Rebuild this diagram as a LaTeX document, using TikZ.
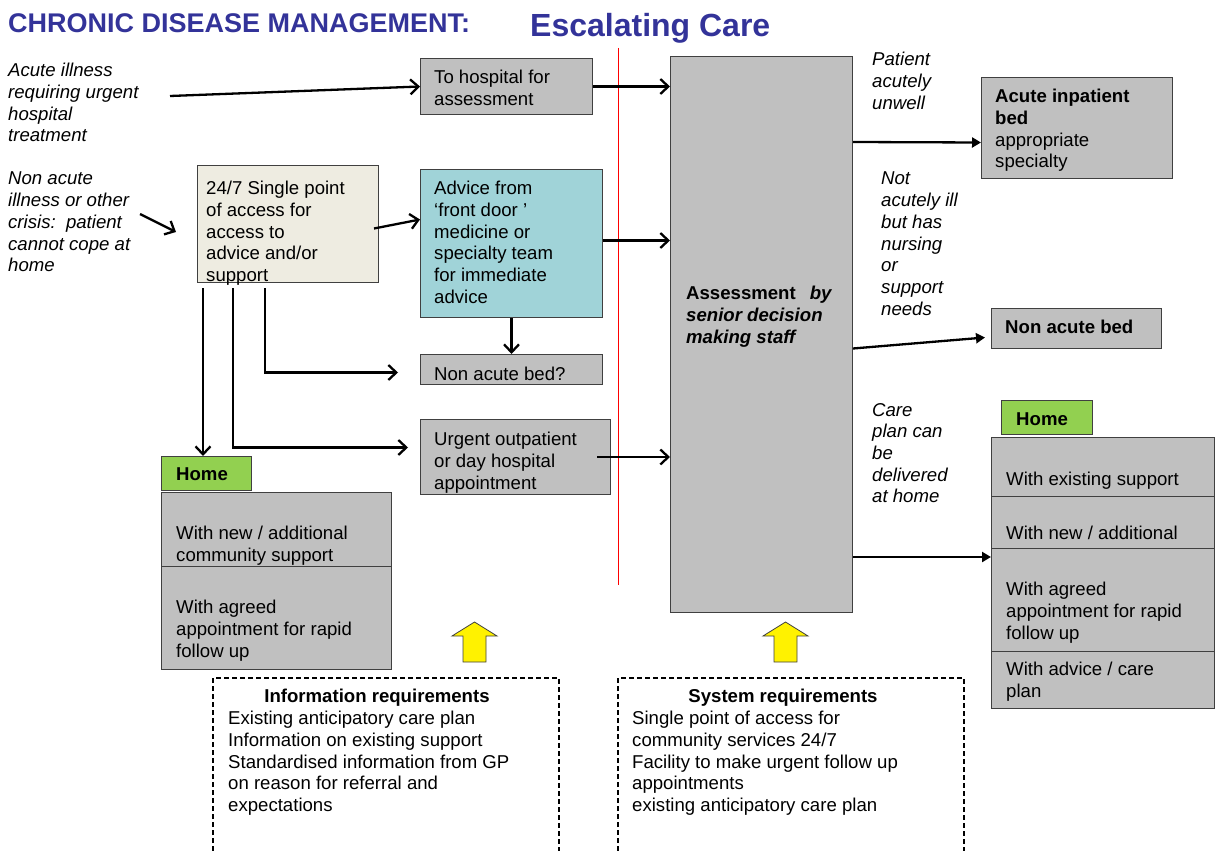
\documentclass[tikz,border=0pt]{standalone}
\usepackage{fontspec}
\setmainfont{Liberation Sans}
\usetikzlibrary{arrows.meta,calc}
\definecolor{titleblue}{RGB}{51,51,153}
\definecolor{boxgray}{RGB}{192,192,192}
\definecolor{beige}{RGB}{238,236,225}
\definecolor{teal}{RGB}{160,211,216}
\definecolor{homegreen}{RGB}{146,208,80}
\definecolor{edge}{RGB}{64,64,64}
\newcommand\bodyfs{\fontsize{18.6}{21.7}\selectfont}
\begin{document}
\begin{tikzpicture}[x=1pt,y=-1pt,
  box/.style={draw=edge, line width=1pt, inner sep=0, anchor=north west},
  gbox/.style={box, fill=boxgray},
  txt/.style={inner sep=0, anchor=north west, align=left, font=\bodyfs},
  itxt/.style={txt, font=\bodyfs\itshape},
  arr/.style={draw=black, line width=2.3pt, -{Straight Barb[length=8pt,width=15pt,line width=2.3pt]}},
  farr/.style={draw=black, line width=2.3pt, -{Triangle[length=9pt,width=10pt]}},
  dbox/.style={draw=black, line width=1.5pt, dash pattern=on 5pt off 3pt},
  yarrow/.style={fill=yellow, draw=edge, line width=0.8pt}
]
\useasboundingbox (0,0) rectangle (1215,851);

% titles
\node[anchor=base west, inner sep=0, text=titleblue, font=\bfseries\fontsize{27}{30}\selectfont] (t1) at (8,33) {CHRONIC DISEASE MANAGEMENT:};
\node[anchor=base west, inner sep=0, text=titleblue, font=\bfseries\fontsize{32}{36}\selectfont] (t2) at (530,37) {Escalating Care};

% red divider
\draw[red, line width=0.8pt] (618,48) -- (618,585);

% boxes
\node[gbox, minimum width=172, minimum height=56] (hosp) at (420,58) {};
\node[box, fill=beige, minimum width=181, minimum height=117] (spa) at (197,165) {};
\node[box, fill=teal, minimum width=182, minimum height=148] (adv) at (420,169) {};
\node[gbox, minimum width=182, minimum height=30] (nab) at (420,354) {};
\node[gbox, minimum width=190, minimum height=75] (urg) at (420,419) {};
\node[gbox, minimum width=182, minimum height=556] (assess) at (670,56) {};
\node[gbox, minimum width=191, minimum height=101] (acute) at (981,77) {};
\node[gbox, minimum width=170, minimum height=40] (nab2) at (991,308) {};
\node[box, fill=homegreen, minimum width=91, minimum height=34] (rhome) at (1001,400) {};
\node[gbox, minimum width=223, minimum height=59] (hr1) at (991,437) {};
\node[gbox, minimum width=223, minimum height=52] (hr2) at (991,496) {};
\node[gbox, minimum width=223, minimum height=103] (hr3) at (991,548) {};
\node[gbox, minimum width=223, minimum height=57] (hr4) at (991,651) {};
\node[box, fill=homegreen, minimum width=90, minimum height=34] (lhome) at (161,456) {};
\node[gbox, minimum width=230, minimum height=74] (lr1) at (161,492) {};
\node[gbox, minimum width=230, minimum height=103] (lr2) at (161,566) {};

% texts
\node[itxt] (l1) at (8,63) {Acute illness\\requiring urgent\\hospital\\treatment};
\node[itxt] (l2) at (8,172) {Non acute\\illness or other\\crisis:\ \ patient\\cannot cope at\\home};
\node[txt] at (434,70) {To hospital for\\assessment};
\node[txt] at (206,181) {24/7 Single point\\of access for\\access to\\advice and/or\\support};
\node[txt] at (434,181) {Advice from\\‘front door ’\\medicine or\\specialty team\\for immediate\\advice};
\node[txt] at (434,367) {Non acute bed?};
\node[txt] at (434,432) {Urgent outpatient\\or day hospital\\appointment};
\node[txt, font=\bodyfs\bfseries] at (686,286) {Assessment\hspace*{14pt}\textit{by}\\\textit{senior decision}\\\textit{making staff}};
\node[itxt] at (872,52) {Patient\\acutely\\unwell};
\node[txt] at (995,89) {\textbf{Acute inpatient}\\\textbf{bed}\\appropriate\\specialty};
\node[itxt] at (881,172) {Not\\acutely ill\\but has\\nursing\\or\\support\\needs};
\node[txt, font=\bodyfs\bfseries] at (1005,320) {Non acute bed};
\node[txt, font=\bodyfs\bfseries] at (1016,412) {Home};
\node[itxt] at (872,403) {Care\\plan can\\be\\delivered\\at home};
\node[txt] at (1006,472) {With existing support};
\node[txt] at (1006,526) {With new / additional};
\node[txt] at (1006,582) {With agreed\\appointment for rapid\\follow up};
\node[txt] at (1006,662) {With advice / care\\plan};
\node[txt, font=\bodyfs\bfseries] at (176,467) {Home};
\node[txt] at (176,526) {With new / additional\\community support};
\node[txt] at (176,600) {With agreed\\appointment for rapid\\follow up};

% requirement boxes
\draw[dbox] (213,851) -- (213,678) -- (559,678) -- (559,851);
\draw[dbox] (618,851) -- (618,678) -- (964,678) -- (964,851);
\node[anchor=base, inner sep=0, font=\bodyfs\bfseries] (ih) at (377,702) {Information requirements};
\node[txt] at (228,711) {Existing anticipatory care plan\\Information on existing support\\Standardised information from GP\\on reason for referral and\\expectations};
\node[anchor=base, inner sep=0, font=\bodyfs\bfseries] (sh) at (783,702) {System requirements};
\node[txt] at (632,711) {Single point of access for\\community services 24/7\\Facility to make urgent follow up\\appointments\\existing anticipatory care plan};

% yellow arrows
\draw[yarrow] (463,662) -- (463,636) -- (452,636) -- (474.5,622) -- (497,636) -- (486,636) -- (486,662) -- cycle;
\draw[yarrow] (774,662) -- (774,636) -- (763,636) -- (785.5,622) -- (808,636) -- (797,636) -- (797,662) -- cycle;

% connectors
\coordinate (a1s) at (170,96);
\draw[arr] (a1s) -- (hosp.west);
\coordinate (a2s) at (140,214);
\coordinate (a2e) at (176,232);
\draw[arr] (a2s) -- (a2e);
\draw[arr] (hosp.east) -- (assess.west |- hosp.east);
\draw[arr] ([xshift=-5pt,yshift=-4.5pt]spa.east) -- ([yshift=24pt]adv.west);
\draw[arr] ([yshift=3pt]adv.east) -- ([yshift=3pt]assess.west |- adv.east);
\draw[arr] (adv.south) -- (nab.north);
\draw[arr] ([xshift=-14pt]urg.east) -- (assess.west |- urg.east);
\coordinate (s1) at (203,288);
\coordinate (s2) at (233,288);
\coordinate (s3) at (265,288);
\draw[arr] (s3) |- ([xshift=-22pt,yshift=-3pt]nab.west);
\draw[arr] (s2) |- ([xshift=-12pt,yshift=9.5pt]urg.west);
\draw[arr] (s1) -- (s1 |- lhome.north);
\draw[farr] (assess.east |- 0,142) -- ([yshift=-14.5pt]acute.west);
\draw[farr] ([yshift=-14pt]assess.east) -- ([xshift=-6pt,yshift=-9pt]nab2.west);
\draw[farr] (assess.east |- 0,557) -- (hr3.west |- 0,557);
\end{tikzpicture}
\end{document}
